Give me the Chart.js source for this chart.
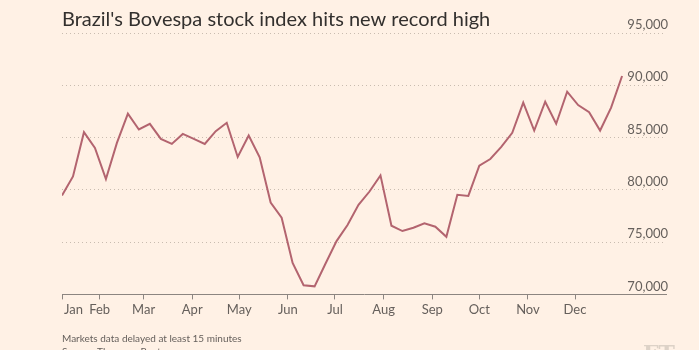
<!DOCTYPE html>
<html>
<head>
<meta charset="utf-8">
<script src="https://cdn.jsdelivr.net/npm/chart.js@4.4.1/dist/chart.umd.min.js"></script>
<style>
  html, body { margin: 0; padding: 0; background: #fff1e5; }
  #wrap { width: 699px; height: 350px; position: relative; }
</style>
</head>
<body>
<div id="wrap"><canvas id="our-chart"></canvas></div>
<script>
// Weekly closes, Bovespa index
const dates = [
  '2018-01-08','2018-01-15','2018-01-22','2018-01-29','2018-02-05','2018-02-12','2018-02-19','2018-02-26',
  '2018-03-05','2018-03-12','2018-03-19','2018-03-26','2018-04-02','2018-04-09','2018-04-16','2018-04-23',
  '2018-04-30','2018-05-07','2018-05-14','2018-05-21','2018-05-28','2018-06-04','2018-06-11','2018-06-18',
  '2018-06-25','2018-07-02','2018-07-09','2018-07-16','2018-07-23','2018-07-30','2018-08-06','2018-08-13',
  '2018-08-20','2018-08-27','2018-09-03','2018-09-10','2018-09-17','2018-09-24','2018-10-01','2018-10-08',
  '2018-10-15','2018-10-22','2018-10-29','2018-11-05','2018-11-12','2018-11-19','2018-11-26','2018-12-03',
  '2018-12-10','2018-12-17','2018-12-24','2018-12-31'
];
const values = [
  79450, 81280, 85510, 84010, 81030, 84490, 87280, 85770,
  86310, 84870, 84390, 85350, 84870, 84390, 85610, 86410,
  83140, 85190, 83110, 78780, 77340, 73010, 70870, 70770,
  72950, 75100, 76630, 78560, 79840, 81380, 76570, 76060,
  76380, 76800, 76470, 75510, 79520, 79420, 82310, 82950,
  84100, 85450, 88340, 85670, 88430, 86320, 89390, 88110,
  87430, 85670, 87860, 90890
];
const tickDates = [
  '2018-01-08','2018-02-01','2018-03-01','2018-04-01','2018-05-01','2018-06-01',
  '2018-07-01','2018-08-01','2018-09-01','2018-10-01','2018-11-01','2018-12-01'
];
const tickLabels = ['\u2002\u2002\u2002 Jan','Feb','Mar','Apr','May','Jun','Jul','Aug','Sep','Oct','Nov','Dec'];
const yMin = 70000, yMax = 95000, yStep = 5000;

function dayOf(s) {
  const [y, m, d] = s.split('-').map(Number);
  return (Date.UTC(y, m - 1, d) - Date.UTC(2018, 0, 1)) / 86400000;
}
const points = dates.map((d, i) => ({ x: dayOf(d), y: values[i] }));
const tickDays = tickDates.map(dayOf);

const ink = '#66605c';
const fontName = 'Lato';

// footer text + FT mark
const footer = {
  id: 'footer',
  afterDraw(chart) {
    const ctx = chart.ctx;
    ctx.save();
    ctx.fillStyle = ink;
    ctx.font = '10px ' + fontName;
    ctx.textBaseline = 'alphabetic';
    ctx.fillText('Markets data delayed at least 15 minutes', 62, 342);
    ctx.fillText('Source: Thomson Reuters', 62, 355);
    ctx.fillStyle = '#ddd2c7';
    ctx.font = 'bold 22px "DejaVu Serif"';
    ctx.fillText('FT', 643, 361);
    ctx.restore();
  }
};

const ctx = document.getElementById('our-chart').getContext('2d');
const myChart = new Chart(ctx, {
  type: 'line',
  data: {
    datasets: [{
      label: 'Bovespa',
      data: points,
      borderColor: '#b3646f',
      borderWidth: 2,
      pointRadius: 0,
      tension: 0,
      fill: false
    }]
  },
  options: {
    responsive: true,
    maintainAspectRatio: false,
    animation: false,
    devicePixelRatio: 1,
    layout: { padding: { left: 62, right: 29, top: 8, bottom: 29 } },
    plugins: {
      legend: { display: false },
      tooltip: { enabled: false },
      title: {
        display: true,
        text: "Brazil's Bovespa stock index hits new record high",
        align: 'start',
        color: '#33302e',
        font: { family: fontName, size: 20, weight: 'normal' },
        padding: { top: 0, bottom: 1 }
      }
    },
    scales: {
      x: {
        type: 'linear',
        min: tickDays[0],
        max: 392,
        afterBuildTicks: (scale) => { scale.ticks = tickDays.map(v => ({ value: v })); },
        ticks: {
          autoSkip: false,
          maxRotation: 0,
          color: ink,
          padding: 3,
          font: { family: fontName, size: 13 },
          callback: (v, i) => tickLabels[i]
        },
        grid: { drawOnChartArea: false, drawTicks: true, tickLength: 5, tickColor: '#8c8580' },
        border: { display: true, color: '#8c8580', width: 1 }
      },
      y: {
        position: 'right',
        min: yMin,
        max: yMax,
        ticks: {
          stepSize: yStep,
          mirror: true,
          labelOffset: -8,
          padding: 2,
          color: ink,
          font: { family: fontName, size: 13 },
          callback: (v) => v.toLocaleString('en-US')
        },
        grid: { color: '#c9bcb0', drawTicks: false, lineWidth: 1 },
        border: { display: false, dash: [1, 3] }
      }
    }
  },
  plugins: [footer]
});
</script>
</body>
</html>
